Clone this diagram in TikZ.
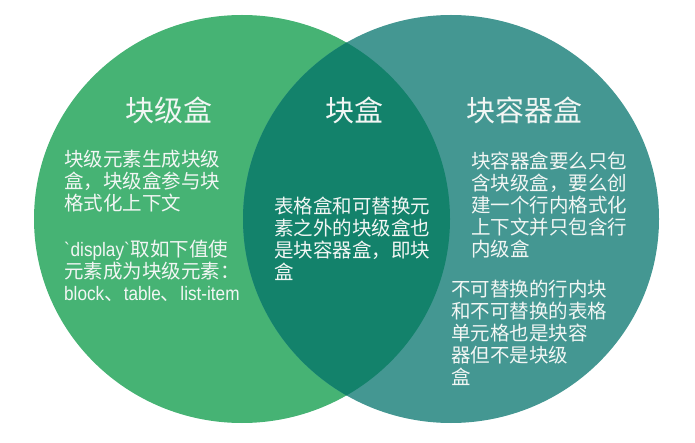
\documentclass[tikz,border=0pt]{standalone}
\usepackage{fontspec}
\usepackage{xcolor}
\usepackage{tikz}
\setmainfont{Noto Sans CJK SC}
\newfontfamily\latinaestrecha{Liberation Sans}[FakeStretch=0.88]
\definecolor{VerdeBloque}{RGB}{70,179,116}
\definecolor{TealContenedor}{RGB}{68,151,146}
\definecolor{VerdeComun}{RGB}{19,130,107}
\definecolor{TextoClaro}{RGB}{242,246,244}
\begin{document}
\begin{tikzpicture}[x=1pt,y=-1pt,
  titulo/.style={text=TextoClaro,font=\fontsize{29}{32}\selectfont,inner sep=0pt},
  cuerpo/.style={text=TextoClaro,font=\fontsize{19.5}{22}\selectfont,inner sep=0pt,align=left,anchor=north west}]
  \useasboundingbox (0,0) rectangle (695,443);
  \fill[VerdeBloque] (242,219) ellipse [x radius=208,y radius=204];
  \fill[TealContenedor] (451,219) ellipse [x radius=208,y radius=204];
  \begin{scope}
    \clip (242,219) ellipse [x radius=208,y radius=204];
    \fill[VerdeComun] (451,219) ellipse [x radius=208,y radius=204];
  \end{scope}
  % titles
  \node[titulo] (tbloque) at (169,110) {块级盒};
  \node[titulo] (tcomun) at (354,110) {块盒};
  \node[titulo] (tcontenedor) at (524,110) {块容器盒};
  % left circle
  \node[cuerpo] (bloque1) at (64,150) {块级元素生成块级\\盒，块级盒参与块\\格式化上下文};
  \node[cuerpo] (bloque2) at (64,240) {{\latinaestrecha\textasciigrave display\textasciigrave}取如下值使\\元素成为块级元素：\\{\latinaestrecha block}、{\latinaestrecha table}、{\latinaestrecha list-item}};
  % overlap
  \node[cuerpo] (comun) at (274,197) {表格盒和可替换元\\素之外的块级盒也\\是块容器盒，即块\\盒};
  % right circle
  \node[cuerpo] (contenedor1) at (471,152) {块容器盒要么只包\\含块级盒，要么创\\建一个行内格式化\\上下文并只包含行\\内级盒};
  \node[cuerpo] (contenedor2) at (451,280) {不可替换的行内块\\和不可替换的表格\\单元格也是块容\\器但不是块级\\盒};
\end{tikzpicture}
\end{document}
